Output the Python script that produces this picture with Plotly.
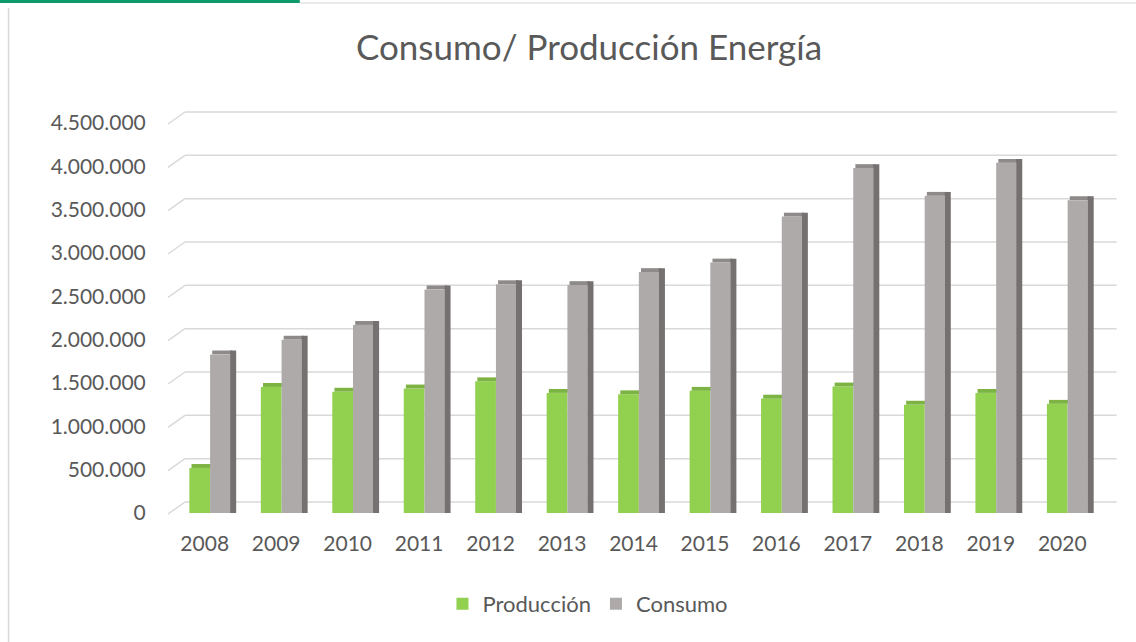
import plotly.graph_objects as go

years = ["2008", "2009", "2010", "2011", "2012", "2013", "2014",
         "2015", "2016", "2017", "2018", "2019", "2020"]
produccion = [520000, 1455000, 1400000, 1437000, 1520000, 1386000, 1370000,
              1410000, 1320000, 1460000, 1250000, 1386000, 1260000]
consumo = [1830000, 2000000, 2170000, 2580000, 2640000, 2630000, 2780000,
           2890000, 3420000, 3980000, 3660000, 4040000, 3610000]
y_ticks = [0, 500000, 1000000, 1500000, 2000000, 2500000, 3000000, 3500000, 4000000, 4500000]
y_labels = ["0", "500.000", "1.000.000", "1.500.000", "2.000.000", "2.500.000",
            "3.000.000", "3.500.000", "4.000.000", "4.500.000"]
Y_MAX = 4500000
CAP = 45000  # visual depth of the bar tops

W, H = 1136, 642
L, R, T, B = 169.3, 38.3, 123, 129
PW = W - L - R

GREEN = "#92D050"
GREEN_TOP = "#7DB342"
GRAY = "#AEAAAA"
GRAY_TOP = "#8E8A8A"
DARK = "#767171"
FONT = "Lato"
TXT = "#595959"

fig = go.Figure()
fig.add_trace(go.Bar(x=years, y=produccion, name="Producción", marker_color=GREEN,
                     offset=-0.215, width=0.29, marker_line_width=0))
fig.add_trace(go.Bar(x=years, y=[CAP] * len(years), base=produccion, name="Producción top",
                     marker_color=GREEN_TOP, offset=-0.185, width=0.29, marker_line_width=0,
                     showlegend=False, hoverinfo="skip"))
fig.add_trace(go.Bar(x=years, y=[CAP] * len(years), base=consumo, name="Consumo top",
                     marker_color=GRAY_TOP, offset=0.105, width=0.28, marker_line_width=0,
                     showlegend=False, hoverinfo="skip"))
fig.add_trace(go.Bar(x=years, y=consumo, name="Consumo", marker_color=GRAY,
                     offset=0.075, width=0.28, marker_line_width=0))
fig.add_trace(go.Bar(x=years, y=[c + CAP for c in consumo], name="Consumo lado",
                     marker_color=DARK, offset=0.355, width=0.085, marker_line_width=0,
                     showlegend=False, hoverinfo="skip"))

shapes = []
# back-wall gridlines with diagonal connectors
for v in y_ticks:
    shapes.append(dict(type="line", xref="paper", yref="paper", xsizemode="pixel", ysizemode="pixel",
                       xanchor=0, yanchor=v / Y_MAX, x0=16, x1=1117 - L, y0=11, y1=11,
                       line=dict(color="#D9D9D9", width=1.5), layer="below"))
    shapes.append(dict(type="line", xref="paper", yref="paper", xsizemode="pixel", ysizemode="pixel",
                       xanchor=0, yanchor=v / Y_MAX, x0=-1, x1=16, y0=-1, y1=11,
                       line=dict(color="#D9D9D9", width=1.5), layer="below"))


def px(xp):
    return (xp - L) / PW


def py(yp):
    return (H - B - yp) / (H - T - B)


# chart frame fragments
shapes.append(dict(type="line", xref="paper", yref="paper", x0=px(9), x1=px(9), y0=py(8), y1=py(642),
                   line=dict(color="#D9D9D9", width=1.5)))
shapes.append(dict(type="line", xref="paper", yref="paper", x0=px(300), x1=px(1136), y0=py(3), y1=py(3),
                   line=dict(color="#E3E3E3", width=1.5)))
shapes.append(dict(type="rect", xref="paper", yref="paper", x0=px(0), x1=px(300), y0=py(0), y1=py(3),
                   fillcolor="#0E9A6C", line=dict(width=0)))

fig.update_layout(
    width=W, height=H,
    margin=dict(l=L, r=R, t=T, b=B),
    paper_bgcolor="white", plot_bgcolor="rgba(0,0,0,0)",
    barmode="overlay",
    font=dict(family=FONT, color=TXT, size=20),
    title=dict(text="Consumo/ Producción Energía", x=589 / W, xanchor="center",
               y=1 - 48 / H, yanchor="middle", font=dict(family=FONT, size=35, color=TXT)),
    xaxis=dict(type="category", range=[-0.5, 12.5], showgrid=False, zeroline=False,
               showline=False, ticks="outside", ticklen=12, tickcolor="rgba(0,0,0,0)",
               tickfont=dict(family=FONT, size=21, color=TXT)),
    yaxis=dict(range=[0, Y_MAX], tickvals=y_ticks, ticktext=y_labels, showgrid=False,
               zeroline=False, showline=False, ticks="outside", ticklen=18,
               tickcolor="rgba(0,0,0,0)", tickfont=dict(family=FONT, size=21, color=TXT)),
    legend=dict(orientation="h", x=px(588), xanchor="center", y=py(604), yanchor="middle",
                font=dict(family=FONT, size=22, color=TXT), traceorder="normal",
                itemwidth=30),
    shapes=shapes,
    showlegend=True,
)

fig.write_html("out.html", config={"displayModeBar": False},
               post_script="document.body.style.margin='0';")
